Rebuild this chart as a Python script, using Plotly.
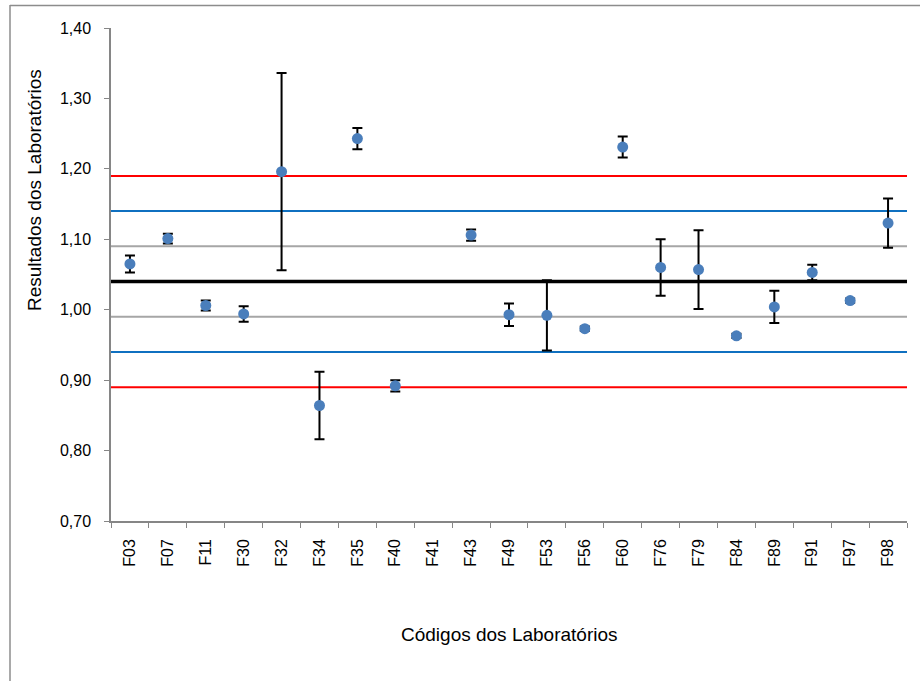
import plotly.graph_objects as go

labs = ["F03", "F07", "F11", "F30", "F32", "F34", "F35", "F40", "F41", "F43", "F49",
        "F53", "F56", "F60", "F76", "F79", "F84", "F89", "F91", "F97", "F98"]
results = [1.065, 1.101, 1.006, 0.994, 1.196, 0.864, 1.243, 0.892, None, 1.106, 0.993,
           0.992, 0.973, 1.231, 1.060, 1.057, 0.963, 1.004, 1.053, 1.013, 1.123]
uncert = [0.012, 0.007, 0.007, 0.011, 0.140, 0.048, 0.015, 0.008, None, 0.008, 0.016,
          0.050, 0.003, 0.015, 0.040, 0.056, 0.003, 0.023, 0.011, 0.003, 0.035]

assigned = 1.04
limits_gray = [0.99, 1.09]
limits_blue = [0.94, 1.14]
limits_red = [0.89, 1.19]

W, H = 920, 681
L, R, T, B = 111, 13, 28, 160
pw, ph = W - L - R, H - T - B

def px2paper_x(px):
    return (px - L) / pw

def px2paper_y(py):
    return (H - B - py) / ph

fig = go.Figure()
fig.add_trace(go.Scatter(
    x=labs, y=results, mode="markers",
    marker=dict(color="#4A7EBB", size=11),
    error_y=dict(type="data", array=uncert, visible=True, color="black",
                 thickness=2, width=5),
    showlegend=False, cliponaxis=False))

shapes = []
def hline(v, color, w):
    shapes.append(dict(type="line", xref="paper", yref="y", x0=0, x1=1, y0=v, y1=v,
                       line=dict(color=color, width=w), layer="below"))

for v in limits_gray:
    hline(v, "#A6A6A6", 2)
for v in limits_blue:
    hline(v, "#0F70C0", 2)
for v in limits_red:
    hline(v, "#FF0000", 2)
hline(assigned, "black", 3.5)

# outer chart border (top and left, others fall outside the picture)
shapes.append(dict(type="line", xref="paper", yref="paper",
                   x0=px2paper_x(10), x1=px2paper_x(925), y0=px2paper_y(5.5), y1=px2paper_y(5.5),
                   line=dict(color="#8C8C8C", width=1.5)))
shapes.append(dict(type="line", xref="paper", yref="paper",
                   x0=px2paper_x(10), x1=px2paper_x(10), y0=px2paper_y(5), y1=px2paper_y(690),
                   line=dict(color="#8C8C8C", width=1.5)))

font = "Liberation Sans, Arial, sans-serif"
fig.update_layout(
    width=W, height=H,
    margin=dict(l=L, r=R, t=T, b=B),
    paper_bgcolor="white", plot_bgcolor="white",
    separators=",.",
    font=dict(family=font, color="black", size=16),
    shapes=shapes,
    xaxis=dict(type="category", range=[-0.5, len(labs) - 0.5],
               showline=True, linecolor="#868686", linewidth=1.5,
               ticks="outside", tickson="boundaries", ticklen=5, tickcolor="#868686",
               tickangle=-90, showgrid=False, zeroline=False,
               tickfont=dict(size=16), ticklabelstandoff=10),
    yaxis=dict(range=[0.70, 1.40], dtick=0.1, tickformat=".2f",
               showline=True, linecolor="#868686", linewidth=1.5,
               ticks="outside", ticklen=5, tickcolor="#868686",
               showgrid=False, zeroline=False,
               tickfont=dict(size=16), ticklabelstandoff=10),
    annotations=[
        dict(text="Resultados dos Laboratórios", xref="paper", yref="paper",
             x=px2paper_x(34), y=px2paper_y(190), textangle=-90,
             showarrow=False, font=dict(size=19), xanchor="center", yanchor="middle"),
        dict(text="Códigos dos Laboratórios", xref="paper", yref="paper",
             x=0.5, y=px2paper_y(634), showarrow=False, font=dict(size=19),
             xanchor="center", yanchor="middle"),
    ],
)

fig.write_html("out.html")
